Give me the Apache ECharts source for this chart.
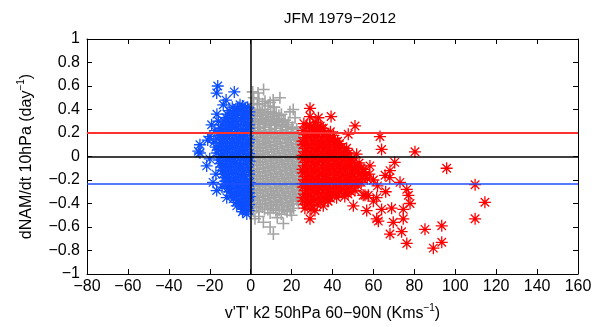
<!DOCTYPE html>
<html>
<head>
<meta charset="utf-8">
<script src="https://cdn.jsdelivr.net/npm/echarts@6/dist/echarts.min.js"></script>
<style>html,body{margin:0;padding:0;background:#fff}#c{width:600px;height:327px}</style>
</head>
<body>
<div id="c"></div>
<script>
// ---- data ----
const titleText = 'JFM 1979\u22122012';
const xRange = [-80, 160];
const yRange = [-1, 1];
const hLineValues = [0.2, 0, -0.235];  // red threshold, zero, blue threshold
const vLineValues = [0];

const grayPts = [
  [6.3,0.57],[3.6,0.54],[11,0.48],[14.3,0.5],[19.2,0.38],[21.7,0.33],[9.5,0.46],[1,0.55],[20.8,0.40],
  [1.5,0.50],[4,0.49],[7,0.47],
  [0.8,0.45],[3.2,0.44],[5.8,0.45],[8.5,0.43],[11.5,0.42],
  [1.5,0.40],[4.2,0.39],[7,0.40],[9.8,0.38],[12.5,0.37],[15,0.36],
  [2,0.37],[5,0.375],[8,0.36],[11,0.365],[13.8,0.35],
  [0.6,0.35],[3.3,0.34],[6,0.35],[8.8,0.33],[11.5,0.34],[14,0.32],[16.8,0.31],
  [0.5,0.32],[2.4,0.315],[5.2,0.32],[7.9,0.31],[10.6,0.315],[13.4,0.30],[16,0.295],[18.5,0.29],
  [1.8,0.30],[4.5,0.29],[7.2,0.30],[10,0.28],[12.8,0.29],[15.5,0.27],[18.3,0.27],[20.5,0.25],
  [1.2,0.275],[4,0.27],[6.8,0.28],[9.5,0.265],[12.2,0.27],[15,0.255],[17.6,0.25],[20.2,0.235],[22.5,0.235],
  [0.7,0.25],[3.5,0.24],[6.2,0.25],[9,0.23],[11.8,0.24],[14.5,0.22],[17.2,0.23],[19.8,0.21],[22.5,0.20],
  [1.5,0.215],[4.2,0.22],[7,0.21],[9.7,0.215],[12.4,0.20],[15.2,0.205],[17.8,0.195],[20.6,0.19],[23.3,0.185],
  [2,0.19],[4.8,0.20],[7.5,0.18],[10.3,0.19],[13,0.17],[15.8,0.18],[18.5,0.16],[21.2,0.17],[23.8,0.15],
  [0.6,0.165],[3,0.16],[5.7,0.165],[8.4,0.155],[11.1,0.16],[13.9,0.15],[16.6,0.155],[19.3,0.145],[22,0.14],[24.2,0.135],
  [0.8,0.14],[3.5,0.13],[6.2,0.14],[9,0.12],[11.7,0.13],[14.5,0.11],[17.2,0.12],[20,0.10],[22.6,0.11],
  [1.5,0.105],[4.2,0.10],[7,0.11],[9.7,0.095],[12.4,0.10],[15.2,0.085],[17.8,0.09],[20.6,0.075],[23.3,0.08],
  [2,0.08],[4.8,0.07],[7.5,0.08],[10.3,0.06],[13,0.07],[15.8,0.05],[18.5,0.06],[21.2,0.04],[23.8,0.05],
  [0.6,0.05],[3,0.045],[5.7,0.05],[8.4,0.035],[11.1,0.04],[13.9,0.025],[16.6,0.03],[19.3,0.015],[22,0.02],[24.4,0.015],
  [0.8,0.02],[3.5,0.01],[6.2,0.02],[9,0.00],[11.7,0.01],[14.5,-0.01],[17.2,0.00],[20,-0.02],[22.6,-0.01],
  [1.5,-0.01],[4.2,-0.015],[7,-0.01],[9.7,-0.03],[12.4,-0.02],[15.2,-0.035],[17.8,-0.03],[20.6,-0.045],[23.3,-0.04],
  [2,-0.04],[4.8,-0.05],[7.5,-0.04],[10.3,-0.06],[13,-0.05],[15.8,-0.07],[18.5,-0.06],[21.2,-0.08],[23.8,-0.07],
  [0.6,-0.07],[3,-0.075],[5.7,-0.07],[8.4,-0.09],[11.1,-0.08],[13.9,-0.095],[16.6,-0.09],[19.3,-0.105],[22,-0.10],[24.4,-0.105],
  [0.8,-0.10],[3.5,-0.11],[6.2,-0.10],[9,-0.12],[11.7,-0.11],[14.5,-0.13],[17.2,-0.12],[20,-0.14],[22.6,-0.13],
  [1.5,-0.13],[4.2,-0.135],[7,-0.13],[9.7,-0.15],[12.4,-0.14],[15.2,-0.155],[17.8,-0.15],[20.6,-0.165],[23.3,-0.16],
  [2,-0.16],[4.8,-0.17],[7.5,-0.16],[10.3,-0.18],[13,-0.17],[15.8,-0.19],[18.5,-0.18],[21.2,-0.20],[23.8,-0.19],
  [0.6,-0.19],[3,-0.195],[5.7,-0.19],[8.4,-0.21],[11.1,-0.20],[13.9,-0.215],[16.6,-0.21],[19.3,-0.225],[22,-0.22],[24.4,-0.225],
  [0.8,-0.22],[3.5,-0.23],[6.2,-0.22],[9,-0.24],[11.7,-0.23],[14.5,-0.25],[17.2,-0.24],[20,-0.26],[22.6,-0.25],
  [1.5,-0.25],[4.2,-0.255],[7,-0.25],[9.7,-0.27],[12.4,-0.26],[15.2,-0.275],[17.8,-0.27],[20.6,-0.285],[23.3,-0.28],
  [2,-0.28],[4.8,-0.29],[7.5,-0.28],[10.3,-0.30],[13,-0.29],[15.8,-0.31],[18.5,-0.30],[21.2,-0.32],[23.8,-0.31],
  [0.6,-0.31],[3,-0.315],[5.7,-0.31],[8.4,-0.33],[11.1,-0.32],[13.9,-0.335],[16.6,-0.33],[19.3,-0.345],[22,-0.34],[24.4,-0.345],
  [0.8,-0.34],[3.5,-0.35],[6.2,-0.34],[9,-0.36],[11.7,-0.35],[14.5,-0.37],[17.2,-0.36],[20,-0.38],[22.6,-0.37],
  [1.5,-0.37],[4.2,-0.375],[7,-0.37],[9.7,-0.39],[12.4,-0.38],[15.2,-0.395],[17.8,-0.39],[20.6,-0.405],[23.3,-0.40],
  [2,-0.40],[4.8,-0.41],[7.5,-0.40],[10.3,-0.42],[13,-0.41],[15.8,-0.43],[18.5,-0.42],[21,-0.44],
  [0.6,-0.43],[3,-0.435],[5.7,-0.43],[8.4,-0.45],[11.1,-0.44],[13.9,-0.455],[16.6,-0.45],[19.3,-0.46],
  [1.2,-0.46],[4,-0.47],[6.8,-0.45],[9.5,-0.48],[12.3,-0.46],[15,-0.49],[17.8,-0.47],
  [2.1,-0.53],[6.2,-0.56],[9.5,-0.60],[11.1,-0.66],[16,-0.57],[20,-0.50],[13,-0.52],[4,-0.51]
];

const bluePts = [
  [-9,0.42],[-6.5,0.41],[-4,0.43],[-1.5,0.42],
  [-10.5,0.39],[-7.8,0.385],[-5.2,0.395],[-2.6,0.39],[-0.6,0.38],
  [-11.5,0.36],[-8.8,0.35],[-6.2,0.37],[-3.5,0.36],[-1,0.35],
  [-12,0.33],[-9.4,0.325],[-6.8,0.335],[-4.2,0.33],[-1.6,0.325],
  [-13,0.30],[-10.3,0.29],[-7.6,0.30],[-5,0.31],[-2.3,0.29],
  [-14,0.27],[-11.5,0.265],[-8.8,0.275],[-6.2,0.27],[-3.5,0.265],[-0.8,0.27],
  [-14.5,0.24],[-11.8,0.23],[-9,0.25],[-6.3,0.24],[-3.6,0.23],[-1,0.24],
  [-15,0.21],[-12.4,0.205],[-9.7,0.215],[-7,0.21],[-4.3,0.205],[-1.6,0.21],
  [-15.5,0.18],[-13,0.17],[-10.3,0.18],[-7.6,0.19],[-5,0.17],[-2.3,0.18],
  [-16.5,0.15],[-14,0.145],[-11.4,0.155],[-8.7,0.15],[-6,0.145],[-3.3,0.15],[-0.7,0.145],
  [-14.5,0.12],[-11.8,0.11],[-9,0.12],[-6.3,0.13],[-3.6,0.11],[-1,0.12],
  [-15,0.09],[-12.4,0.085],[-9.7,0.095],[-7,0.09],[-4.3,0.085],[-1.6,0.09],
  [-15.8,0.06],[-13,0.05],[-10.3,0.06],[-7.6,0.07],[-5,0.05],[-2.3,0.06],
  [-16.5,0.03],[-14,0.025],[-11.4,0.035],[-8.7,0.03],[-6,0.025],[-3.3,0.03],[-0.7,0.025],
  [-14.5,0.00],[-11.8,-0.01],[-9,0.00],[-6.3,0.01],[-3.6,-0.01],[-1,0.00],
  [-15.5,-0.03],[-13,-0.035],[-10.4,-0.025],[-7.7,-0.03],[-5,-0.035],[-2.4,-0.03],[-0.5,-0.04],
  [-15,-0.06],[-12.5,-0.07],[-10,-0.06],[-7.5,-0.05],[-5,-0.07],[-2.3,-0.06],
  [-14.5,-0.09],[-12,-0.095],[-9.4,-0.085],[-6.8,-0.09],[-4.2,-0.095],[-1.6,-0.09],
  [-13.8,-0.12],[-11.2,-0.13],[-8.6,-0.12],[-6,-0.11],[-3.5,-0.13],[-1,-0.12],
  [-13.5,-0.15],[-11,-0.155],[-8.4,-0.145],[-5.8,-0.15],[-3.2,-0.155],[-0.7,-0.15],
  [-13,-0.18],[-10.3,-0.19],[-7.6,-0.18],[-5,-0.17],[-2.3,-0.19],
  [-12.5,-0.21],[-10,-0.215],[-7.4,-0.205],[-4.8,-0.21],[-2.2,-0.215],[-0.5,-0.22],
  [-12,-0.24],[-9.5,-0.25],[-7,-0.24],[-4.4,-0.23],[-1.8,-0.25],
  [-11,-0.27],[-8.6,-0.275],[-6,-0.265],[-3.6,-0.27],[-1,-0.275],
  [-10.5,-0.30],[-8,-0.31],[-5.5,-0.30],[-3,-0.29],[-0.8,-0.31],
  [-9.5,-0.33],[-7,-0.335],[-4.6,-0.325],[-2.2,-0.33],[-0.4,-0.34],
  [-8.5,-0.36],[-6,-0.37],[-3.5,-0.36],[-1.2,-0.35],
  [-7,-0.39],[-4.5,-0.395],[-2,-0.385],
  [-5,-0.42],[-2.6,-0.43],[-0.8,-0.41],
  [-3.5,-0.45],[-1,-0.46],
  [-16.1,0.60],[-16.6,0.54],[-8,0.55],[-13.4,0.44],[-5.2,0.44],[-2.8,0.41],[-15.8,0.30],
  [-19.1,0.27],[-19.9,0.17],[-24.8,0.10],[-25.6,0.045],[-24.8,0.03],[-21.5,-0.08],[-18.4,-0.22],
  [-16.6,-0.29],[-11.7,-0.35],[-6.8,-0.42],[-1.9,-0.49],[-2.8,-0.45],[-17.5,0.22],[-18,0.12],
  [-20,-0.02],[-17,-0.15],[-14,-0.26],[-4,-0.47],[-16.5,0.36],[-12,0.48],[-17,0.08],[-21,0.14]
];

const redPts = [
  [26,0.28],[28.8,0.27],[31.5,0.29],[34,0.26],
  [27.2,0.25],[30,0.245],[32.7,0.25],[35.5,0.24],
  [25.5,0.22],[28.2,0.21],[31,0.23],[33.7,0.22],[36.4,0.20],[39,0.21],
  [27,0.19],[29.7,0.185],[32.5,0.195],[35.2,0.19],[37.9,0.175],[40.5,0.18],
  [26.5,0.16],[29.2,0.15],[32,0.17],[34.7,0.16],[37.4,0.14],[40,0.15],[42.5,0.13],
  [25.3,0.13],[27.8,0.125],[30.5,0.135],[33.2,0.13],[35.9,0.115],[38.6,0.12],[41.2,0.125],[43.5,0.11],
  [25.5,0.10],[28.2,0.09],[31,0.11],[33.7,0.10],[36.4,0.08],[39,0.09],[41.8,0.10],[44.5,0.08],
  [27,0.07],[29.7,0.065],[32.5,0.075],[35.2,0.07],[37.9,0.055],[40.5,0.06],[43.2,0.065],[46,0.05],
  [26.5,0.04],[29.2,0.03],[32,0.05],[34.7,0.04],[37.4,0.02],[40,0.03],[42.8,0.04],[45.5,0.02],[48,0.03],
  [25.3,0.01],[27.8,0.005],[30.5,0.015],[33.2,0.01],[35.9,-0.005],[38.6,0],[41.2,0.005],[44,-0.01],[46.7,0],[49.3,-0.015],
  [25.5,-0.02],[28.2,-0.03],[31,-0.01],[33.7,-0.02],[36.4,-0.04],[39,-0.03],[41.8,-0.02],[44.5,-0.04],[47.2,-0.03],[50,-0.05],
  [27,-0.05],[29.7,-0.055],[32.5,-0.045],[35.2,-0.05],[37.9,-0.065],[40.5,-0.06],[43.2,-0.055],[46,-0.07],[48.7,-0.06],[51.5,-0.075],[53,-0.055],
  [26.5,-0.08],[29.2,-0.09],[32,-0.07],[34.7,-0.08],[37.4,-0.10],[40,-0.09],[42.8,-0.08],[45.5,-0.10],[48.2,-0.09],[51,-0.11],[54,-0.10],
  [25.3,-0.11],[27.8,-0.115],[30.5,-0.105],[33.2,-0.11],[35.9,-0.125],[38.6,-0.12],[41.2,-0.115],[44,-0.13],[46.7,-0.12],[49.4,-0.135],[52.2,-0.125],[55,-0.13],
  [25.5,-0.14],[28.2,-0.15],[31,-0.13],[33.7,-0.14],[36.4,-0.16],[39,-0.15],[41.8,-0.14],[44.5,-0.16],[47.2,-0.15],[50,-0.17],[53,-0.15],[56,-0.16],
  [27,-0.17],[29.7,-0.175],[32.5,-0.165],[35.2,-0.17],[37.9,-0.185],[40.5,-0.18],[43.2,-0.175],[46,-0.19],[48.7,-0.18],[51.5,-0.195],[54.5,-0.185],[57,-0.19],
  [26.5,-0.20],[29.2,-0.21],[32,-0.19],[34.7,-0.20],[37.4,-0.22],[40,-0.21],[42.8,-0.20],[45.5,-0.22],[48.2,-0.21],[51,-0.23],[54,-0.22],
  [25.3,-0.23],[27.8,-0.235],[30.5,-0.225],[33.2,-0.23],[35.9,-0.245],[38.6,-0.24],[41.2,-0.235],[44,-0.25],[46.7,-0.24],[49.4,-0.255],[52.5,-0.25],
  [25.5,-0.26],[28.2,-0.27],[31,-0.25],[33.7,-0.26],[36.4,-0.28],[39,-0.27],[41.8,-0.26],[44.5,-0.28],[47.5,-0.27],[51,-0.29],
  [27,-0.29],[29.7,-0.295],[32.5,-0.285],[35.2,-0.29],[37.9,-0.305],[40.5,-0.30],[43.2,-0.295],[46,-0.31],[49,-0.30],
  [26.5,-0.32],[29.2,-0.33],[32,-0.31],[34.7,-0.32],[37.4,-0.34],[40,-0.33],[43,-0.32],[46,-0.34],
  [25.3,-0.35],[27.8,-0.355],[30.5,-0.345],[33.2,-0.35],[36,-0.36],[39,-0.355],[42,-0.35],
  [25.5,-0.38],[28.2,-0.39],[31,-0.37],[34,-0.39],[37.8,-0.38],
  [27,-0.41],[29.7,-0.415],[32.5,-0.405],[35.5,-0.42],
  [26.5,-0.44],[29.5,-0.45],[31.4,-0.46],
  [29,0.41],[29,0.34],[33.1,0.33],[39.3,0.34],[34.7,0.24],[51,0.26],[47.7,0.19],[63.2,0.17],[64,0.06],
  [41.2,0.12],[46.9,0.07],[51.8,0.02],[80.3,0.04],[95.8,-0.10],[109.7,-0.24],[114.5,-0.39],[109.7,-0.53],
  [70.4,-0.05],[68.1,-0.12],[65.7,-0.16],[73,-0.22],[76.3,-0.28],[77.1,-0.33],[77.9,-0.40],[74.6,-0.45],
  [68.9,-0.44],[61.6,-0.35],[57.5,-0.33],[50.2,-0.42],[62.4,-0.55],[69.7,-0.56],[73.8,-0.64],[68.1,-0.66],
  [76.3,-0.74],[85.2,-0.62],[93.4,-0.59],[93.4,-0.73],[89.3,-0.78],[29,-0.53],[58.3,-0.08],[64,-0.45],
  [37.8,-0.38],[56.7,-0.46],[61.6,-0.53],[60,-0.38],[55.9,-0.33],[74.6,-0.53],[60,-0.2],[62,-0.25],
  [58,-0.15],[66,-0.3],[55,-0.11],[47.6,-0.32],[55,-0.33],[68,-0.18]
];

// ---- chart ----
const FONT = 'Liberation Sans, Arial, Helvetica, sans-serif';
const LABEL_SIZE = 16;
const STAR = 'path://M0,-10L0,10M-10,0L10,0M-7.07,-7.07L7.07,7.07M-7.07,7.07L7.07,-7.07';
const PLUS = 'path://M0,-10L0,10M-10,0L10,0';
const fmt = v => {
  let n = Math.round(v * 10) / 10;
  if (Math.abs(n) < 1e-9) n = 0;
  return String(n).replace('-', '\u2212');
};
const fmtX = v => String(Math.round(v)).replace('-', '\u2212');

function axisBase(extra) {
  return Object.assign({
    type: 'value',
    splitLine: { show: false },
    axisLine: { show: true, onZero: false, lineStyle: { color: '#000', width: 1 } },
    axisTick: { show: true, inside: true, length: 5, lineStyle: { color: '#000', width: 1 } },
    axisLabel: { show: true, color: '#000', fontFamily: FONT, fontSize: LABEL_SIZE }
  }, extra);
}

function scatter(name, data, symbol, color, z, bw) {
  return {
    name, type: 'scatter', data, symbol, symbolSize: 12, z,
    xAxisIndex: 0, yAxisIndex: 0,
    itemStyle: { color: 'transparent', borderColor: color, borderWidth: bw, opacity: 1 },
    emphasis: { disabled: true }, silent: true
  };
}

const richName = {
  a: { fontFamily: FONT, fontSize: LABEL_SIZE, color: '#000', lineHeight: 19, verticalAlign: 'bottom' },
  s: { fontFamily: FONT, fontSize: 10, color: '#000', lineHeight: 19, verticalAlign: 'top' }
};

const lineColors = ['#ff3030', '#000000', '#1f4fff'];
const lineWidths = [1.8, 1.5, 1.5];

const chart = echarts.init(document.getElementById('c'), null, { renderer: 'canvas' });
chart.setOption({
  animation: false,
  backgroundColor: '#fff',
  title: {
    text: titleText, left: 335, top: 6, textAlign: 'center',
    textStyle: { fontFamily: FONT, fontSize: 15.5, fontWeight: 'normal', color: '#000' }
  },
  grid: { left: 87, right: 22, top: 39, bottom: 52, containLabel: false },
  xAxis: [
    axisBase({
      min: xRange[0], max: xRange[1], interval: 20, position: 'bottom',
      axisLabel: { show: true, color: '#000', fontFamily: FONT, fontSize: LABEL_SIZE, margin: 5, formatter: fmtX },
      name: "{a|v'T' k2 50hPa 60\u221290N (Kms}{s|\u22121}{a|)}",
      nameLocation: 'middle', nameGap: 29,
      nameTextStyle: { color: '#000', fontFamily: FONT, fontSize: LABEL_SIZE, rich: richName }
    }),
    axisBase({
      min: xRange[0], max: xRange[1], interval: 20, position: 'top',
      axisLabel: { show: false }
    })
  ],
  yAxis: [
    axisBase({
      min: yRange[0], max: yRange[1], interval: 0.2, position: 'left',
      axisLabel: { show: true, color: '#000', fontFamily: FONT, fontSize: LABEL_SIZE, margin: 7, formatter: fmt },
      name: '{a|dNAM/dt 10hPa (day}{s|\u22121}{a|)}',
      nameLocation: 'middle', nameGap: 52, nameRotate: 90,
      nameTextStyle: { color: '#000', fontFamily: FONT, fontSize: LABEL_SIZE, rich: richName }
    }),
    axisBase({
      min: yRange[0], max: yRange[1], interval: 0.2, position: 'right',
      axisLabel: { show: false }
    })
  ],
  series: [
    scatter('neutral', grayPts, PLUS, '#a4a4a4', 2, 1.6),
    scatter('weak', bluePts, STAR, '#0d4fff', 3, 1.3),
    scatter('strong', redPts, STAR, '#ff0000', 4, 1.3),
    {
      type: 'scatter', data: [], xAxisIndex: 0, yAxisIndex: 0, z: 10, silent: true,
      markLine: {
        silent: true, symbol: 'none', animation: false,
        label: { show: false },
        data: hLineValues.map((v, i) => ({ yAxis: v, lineStyle: { color: lineColors[i], width: lineWidths[i], type: 'solid' } }))
          .concat(vLineValues.map(v => ({ xAxis: v, lineStyle: { color: '#000', width: 1.5, type: 'solid' } })))
      }
    }
  ]
});
</script>
</body>
</html>
